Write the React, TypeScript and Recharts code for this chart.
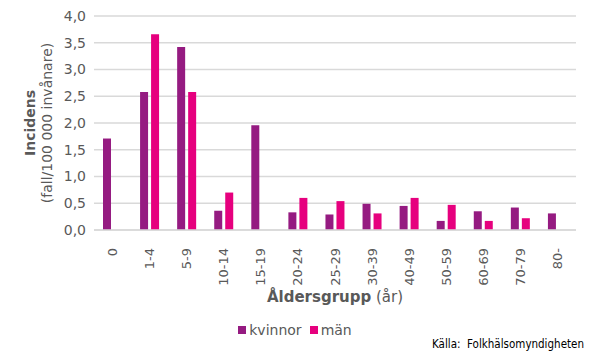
import React from "react";
import { BarChart, Bar, XAxis, YAxis, CartesianGrid } from "recharts";

// Incidens per åldersgrupp och kön (fall/100 000 invånare)
const ageGroups = ["0", "1-4", "5-9", "10-14", "15-19", "20-24", "25-29", "30-39", "40-49", "50-59", "60-69", "70-79", "80-"];
const kvinnor = [1.71, 2.58, 3.42, 0.36, 1.96, 0.33, 0.29, 0.49, 0.45, 0.17, 0.35, 0.42, 0.31];
const man = [0, 3.66, 2.58, 0.7, 0, 0.6, 0.54, 0.31, 0.6, 0.47, 0.17, 0.22, 0];
const yTicks = [0, 0.5, 1, 1.5, 2, 2.5, 3, 3.5, 4];

const data = ageGroups.map((g, i) => ({ group: g, kvinnor: kvinnor[i], man: man[i] }));

const FONT = "'DejaVu Sans', Verdana, sans-serif";
const TEXT = "#595959";
const GRID = "#d9d9d9";
const PURPLE = "#951b81";
const MAGENTA = "#e6007e";

const fmt = (v: number) => v.toFixed(1).replace(".", ",");

function XTick({ x, y, payload }: any) {
  return (
    <text
      x={x} y={y + 10}
      transform={`rotate(-90, ${x}, ${y + 10})`}
      textAnchor="end" dominantBaseline="central"
      fill={TEXT} fontSize={13} fontFamily={FONT}
    >
      {payload.value}
    </text>
  );
}

function YLabel({ viewBox }: any) {
  const cy = viewBox.y + viewBox.height / 2;
  return (
    <g fontFamily={FONT} fill={TEXT} fontSize={14}>
      <text x={30} y={cy} transform={`rotate(-90, 30, ${cy})`} textAnchor="middle" dominantBaseline="central" fontWeight="bold">
        Incidens
      </text>
      <text x={47} y={cy} transform={`rotate(-90, 47, ${cy})`} textAnchor="middle" dominantBaseline="central">
        (fall/100 000 invånare)
      </text>
    </g>
  );
}

function XLabel({ viewBox }: any) {
  const cx = viewBox.x + viewBox.width / 2;
  return (
    <text x={cx} y={302} textAnchor="middle" fontFamily={FONT} fill={TEXT} fontSize={15}>
      <tspan fontWeight="bold">Åldersgrupp</tspan>
      <tspan> (år)</tspan>
    </text>
  );
}

const legendItems = [
  { name: "kvinnor", color: PURPLE },
  { name: "män", color: MAGENTA },
];

export default function App() {
  return (
    <div style={{ position: "absolute", left: 0, top: 0, width: 590, height: 354, background: "#fff" }}>
      <BarChart
        width={590} height={354} data={data}
        margin={{ top: 16, right: 14, bottom: 64, left: 50 }}
        barSize={8} barGap={3}
      >
        <CartesianGrid vertical={false} stroke={GRID} strokeWidth={1.5} />
        <XAxis
          dataKey="group" interval={0} tick={<XTick />} tickLine={false}
          axisLine={{ stroke: GRID, strokeWidth: 1.5 }} height={60}
          label={<XLabel />}
        />
        <YAxis
          domain={[0, 4]} ticks={yTicks} tickFormatter={fmt} width={44}
          axisLine={false} tickLine={false} tickMargin={2}
          tick={{ fill: TEXT, fontSize: 14, fontFamily: FONT }}
          label={<YLabel />}
        />
        <Bar dataKey="kvinnor" name="kvinnor" fill={PURPLE} isAnimationActive={false} />
        <Bar dataKey="man" name="män" fill={MAGENTA} isAnimationActive={false} />
      </BarChart>
      <div style={{ position: "absolute", left: 0, top: 322, width: 590, display: "flex", justifyContent: "center", gap: 8, fontFamily: FONT, fontSize: 14, color: TEXT }}>
        {legendItems.map((it) => (
          <span key={it.name} style={{ display: "flex", alignItems: "center" }}>
            <span style={{ width: 8, height: 8, background: it.color, marginRight: 3, display: "inline-block" }} />
            {it.name}
          </span>
        ))}
      </div>
      <div style={{ position: "absolute", left: 432, top: 337, fontFamily: "'DejaVu Sans Condensed', 'DejaVu Sans', sans-serif", fontSize: 11.5, color: "#000", whiteSpace: "nowrap" }}>
        Källa:&nbsp; Folkhälsomyndigheten
      </div>
    </div>
  );
}
